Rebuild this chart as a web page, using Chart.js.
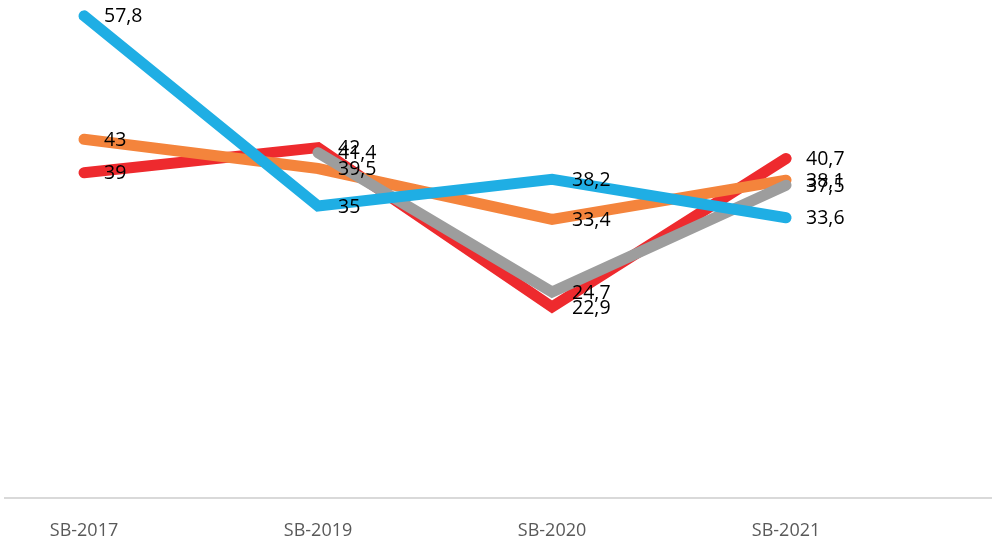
<!DOCTYPE html>
<html>
<head>
<meta charset="utf-8">
<script src="https://cdn.jsdelivr.net/npm/chart.js@4.4.0/dist/chart.umd.min.js"></script>
<style>
  html, body { margin: 0; padding: 0; background: #fff; }
  #wrap { width: 992px; height: 550px; }
</style>
</head>
<body>
<div id="wrap"><canvas id="lineChart"></canvas></div>
<script>
"use strict";

var categories = ["SB-2017", "SB-2019", "SB-2020", "SB-2021"];
var redValues = [39, 42, 22.9, 40.7];
var orangeValues = [43, 39.5, 33.4, 38.1];
var grayValues = [null, 41.4, 24.7, 37.5];
var blueValues = [57.8, 35, 38.2, 33.6];

// turn a value list into {x, y} points on the category index
function toPoints(values) {
    return values.map(function (v, i) { return { x: i, y: v }; });
}

function makeSet(values, color, order) {
    return {
        data: toPoints(values),
        borderColor: color,
        backgroundColor: color,
        borderWidth: 11,
        borderCapStyle: "round",
        pointRadius: 0,
        pointHoverRadius: 0,
        spanGaps: false,
        order: order
    };
}

// write values next to each point, with a decimal comma
var valueLabels = {
    id: "valueLabels",
    afterDatasetsDraw: function (chart) {
        var ctx = chart.ctx;
        ctx.save();
        ctx.font = "19.5px 'Open Sans'";
        ctx.fillStyle = "#000";
        ctx.textAlign = "left";
        ctx.textBaseline = "middle";
        chart.data.datasets.forEach(function (ds, i) {
            var meta = chart.getDatasetMeta(i);
            meta.data.forEach(function (pt, j) {
                var v = ds.data[j].y;
                if (v === null) return;
                ctx.fillText(String(v).replace(".", ","), pt.x + 20, pt.y + 1);
            });
        });
        ctx.restore();
    }
};

var ctx_line = document.getElementById("lineChart").getContext("2d");

var myLineChart = new Chart(ctx_line, {
    type: "line",
    data: {
        datasets: [
            makeSet(redValues, "#EE2A2E", 4),
            makeSet(orangeValues, "#F4843C", 3),
            makeSet(grayValues, "#9D9D9D", 2),
            makeSet(blueValues, "#1FAEE4", 1)
        ]
    },
    options: {
        responsive: true,
        maintainAspectRatio: false,
        animation: false,
        layout: { padding: { left: 5, right: 0, top: 0, bottom: 0 } },
        plugins: { legend: { display: false }, tooltip: { enabled: false } },
        scales: {
            x: {
                type: "linear",
                min: -0.3376,
                max: 3.88,
                grid: { display: false },
                border: { display: true, color: "#D9D9D9", width: 2 },
                afterBuildTicks: function (scale) {
                    scale.ticks = categories.map(function (c, i) { return { value: i }; });
                },
                afterFit: function (scale) {
                    scale.height = 52;
                },
                ticks: {
                    padding: 14,
                    color: "#595959",
                    font: { family: "'Open Sans'", size: 18 },
                    maxRotation: 0,
                    autoSkip: false,
                    callback: function (value) {
                        return categories[value] || "";
                    }
                }
            },
            y: {
                display: false,
                min: 0,
                max: 59.7
            }
        }
    },
    plugins: [valueLabels]
});
</script>
</body>
</html>
